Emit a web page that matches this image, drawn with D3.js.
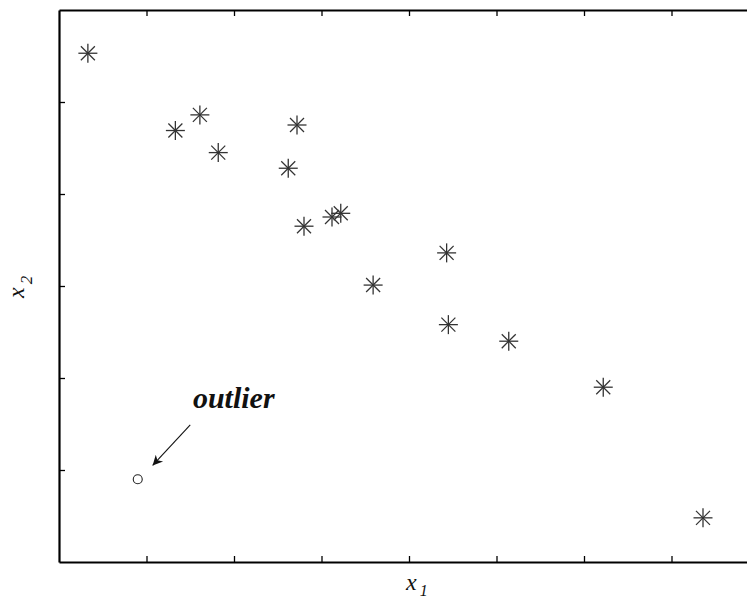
<!DOCTYPE html>
<html>
<head>
<meta charset="utf-8">
<script src="https://cdn.jsdelivr.net/npm/d3@7"></script>
<style>
  html, body { margin: 0; padding: 0; background: #fff; }
  svg { display: block; }
</style>
</head>
<body>
<svg id="chart" width="747" height="601"></svg>
<script>
// Regular observations (x1, x2)
const x1Values = [0.33, 1.33, 1.61, 1.82, 2.72, 2.62, 2.80, 3.12, 3.22, 3.59, 4.43, 4.45, 5.14, 6.22, 7.36];
const x2Values = [5.53, 4.69, 4.86, 4.45, 4.75, 4.28, 3.65, 3.75, 3.79, 3.01, 3.36, 2.58, 2.40, 1.90, 0.48];

// The single outlying observation
const outlierX1 = [0.90];
const outlierX2 = [0.90];

// Unlabelled tick positions
const xTicks = [1, 2, 3, 4, 5, 6, 7];
const yTicks = [1, 2, 3, 4, 5];

// Annotation: label and arrow (data units)
const annotationText = "outlier";
const annotationLabel = [1.53, 1.67];
const arrowFrom = [1.50, 1.49];
const arrowTo = [1.07, 1.05];

const svg = d3.select("#chart");
const plotLeft = 59, plotTop = 10, plotBottom = 562, plotRight = 759;

const x = d3.scaleLinear().domain([0, 8]).range([plotLeft, plotRight]);
const y = d3.scaleLinear().domain([0, 6]).range([plotBottom, plotTop]);

const tickLen = 6;
const gAxes = svg.append("g");

// Frame axes with inward ticks, no labels
gAxes.append("g").attr("transform", `translate(0,${plotBottom})`)
  .call(d3.axisTop(x).tickValues(xTicks).tickSize(tickLen).tickSizeOuter(0).tickFormat(""));
gAxes.append("g").attr("transform", `translate(0,${plotTop})`)
  .call(d3.axisBottom(x).tickValues(xTicks).tickSize(tickLen).tickSizeOuter(0).tickFormat(""));
gAxes.append("g").attr("transform", `translate(${plotLeft},0)`)
  .call(d3.axisRight(y).tickValues(yTicks).tickSize(tickLen).tickSizeOuter(0).tickFormat(""));

gAxes.selectAll(".domain").attr("stroke", "#000").attr("stroke-width", 2.2);
gAxes.selectAll(".tick line").attr("stroke", "#000").attr("stroke-width", 1.3);

// Asterisk markers
const pts = x1Values.map((v, i) => [v, x2Values[i]]);
const star = svg.append("g").selectAll("g").data(pts).join("g")
  .attr("transform", d => `translate(${x(d[0])},${y(d[1])})`);
const r = 9.5, rd = 7;
star.append("line").attr("x1", 0).attr("y1", -r).attr("x2", 0).attr("y2", r);
star.append("line").attr("x1", -r).attr("y1", 0).attr("x2", r).attr("y2", 0);
star.append("line").attr("x1", -rd).attr("y1", -rd).attr("x2", rd).attr("y2", rd);
star.append("line").attr("x1", -rd).attr("y1", rd).attr("x2", rd).attr("y2", -rd);
star.selectAll("line").attr("stroke", "#333").attr("stroke-width", 1.3);

// Outlier as open circle
svg.append("g").selectAll("circle").data(outlierX1.map((v, i) => [v, outlierX2[i]])).join("circle")
  .attr("cx", d => x(d[0])).attr("cy", d => y(d[1])).attr("r", 4.5)
  .attr("fill", "none").attr("stroke", "#222").attr("stroke-width", 1.1);

// Arrow pointing at the outlier
const defs = svg.append("defs");
defs.append("marker").attr("id", "arrowhead")
  .attr("viewBox", "0 0 10 10").attr("refX", 10).attr("refY", 5)
  .attr("markerWidth", 14).attr("markerHeight", 10).attr("markerUnits", "userSpaceOnUse")
  .attr("orient", "auto")
  .append("path").attr("d", "M0,0 L10,5 L0,10 L3,5 Z").attr("fill", "#111");

svg.append("line")
  .attr("x1", x(arrowFrom[0])).attr("y1", y(arrowFrom[1]))
  .attr("x2", x(arrowTo[0])).attr("y2", y(arrowTo[1]))
  .attr("stroke", "#111").attr("stroke-width", 1.1)
  .attr("marker-end", "url(#arrowhead)");

const serif = "'Liberation Serif', 'DejaVu Serif', serif";

svg.append("text")
  .attr("x", x(annotationLabel[0])).attr("y", y(annotationLabel[1]))
  .attr("font-family", serif)
  .attr("font-style", "italic").attr("font-weight", "bold")
  .attr("font-size", 30).attr("fill", "#111")
  .text(annotationText);

// Axis titles
const xt = svg.append("text")
  .attr("x", 406).attr("y", 590)
  .attr("font-family", serif).attr("font-style", "italic")
  .attr("font-size", 24).attr("fill", "#111");
xt.append("tspan").text("x");
xt.append("tspan").attr("dx", 3).attr("dy", 6).attr("font-size", 16).text("1");

const yt = svg.append("text")
  .attr("transform", "translate(24,298) rotate(-90)")
  .attr("font-family", serif).attr("font-style", "italic")
  .attr("font-size", 24).attr("fill", "#111");
yt.append("tspan").text("x");
yt.append("tspan").attr("dx", 3).attr("dy", 8).attr("font-size", 17).text("2");
</script>
</body>
</html>
